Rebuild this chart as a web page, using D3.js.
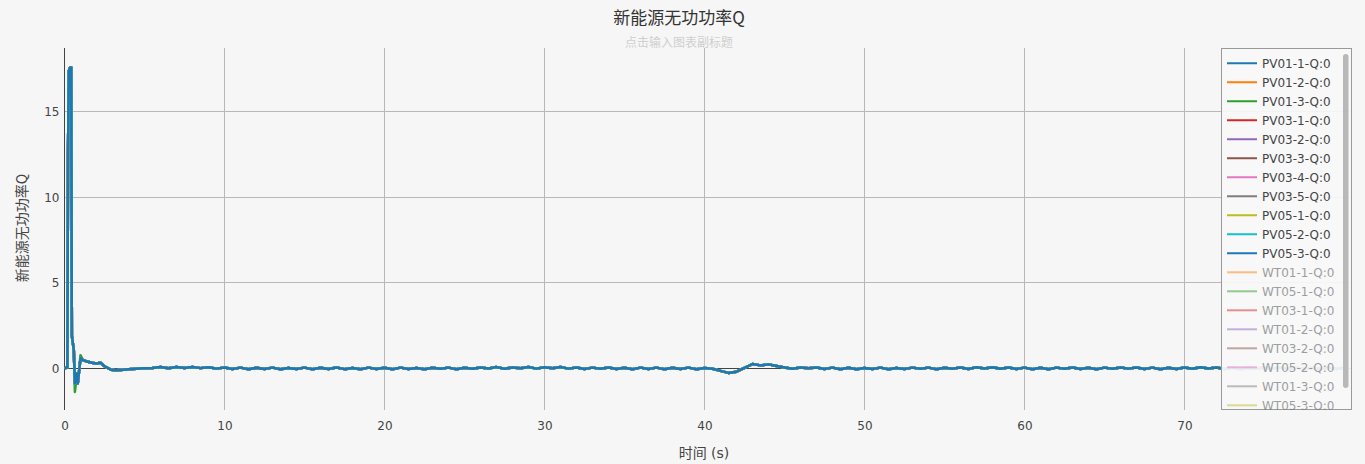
<!DOCTYPE html>
<html><head><meta charset="utf-8">
<script src="https://cdn.jsdelivr.net/npm/d3@7"></script>
<style>
html,body{margin:0;padding:0;background:#f6f6f6;}
svg{display:block;font-family:"DejaVu Sans","Noto Sans CJK SC",sans-serif;}
</style></head><body>
<svg id="chart" width="1365" height="464"></svg>
<script>
// ---------- data ----------
const chartTitle = "新能源无功功率Q";
const chartSubtitle = "点击输入图表副标题";
const yAxisTitle = "新能源无功功率Q";
const xAxisTitle = "时间 (s)";
const xTicks = [0, 10, 20, 30, 40, 50, 60, 70];
const yTicks = [0, 5, 10, 15];

const seriesNames = ["PV01-1-Q:0","PV01-2-Q:0","PV01-3-Q:0","PV03-1-Q:0","PV03-2-Q:0","PV03-3-Q:0",
  "PV03-4-Q:0","PV03-5-Q:0","PV05-1-Q:0","PV05-2-Q:0","PV05-3-Q:0",
  "WT01-1-Q:0","WT05-1-Q:0","WT03-1-Q:0","WT01-2-Q:0","WT03-2-Q:0","WT05-2-Q:0","WT01-3-Q:0","WT05-3-Q:0"];
const seriesVisible = [true,true,true,true,true,true,true,true,true,true,true,
  false,false,false,false,false,false,false,false];
const seriesColors = ["#1f77b4","#ff7f0e","#2ca02c","#d62728","#9467bd","#8c564b","#e377c2","#7f7f7f","#bcbd22","#17becf",
  "#1f77b4","#ff7f0e","#2ca02c","#d62728","#9467bd","#8c564b","#e377c2","#7f7f7f","#bcbd22"];

// start-up transient sample times (s)
const tStart = [0,0.18,0.22,0.27,0.35,0.42,0.46,0.58,0.65,0.75,0.83,1.0,1.15,1.4,1.7,2.0,2.25,2.5,2.9,3.2,3.5,4.0,4.5,5.0];
// steady-state sampling grid 5.5 s .. 80.0 s every 0.5 s
const tSteady = d3.range(5.5, 80.01, 0.5);

// main PV reactive power (start-up)
const qStart = [0,0.05,12.6,17.4,17.6,17.6,1.9,1.1,-0.88,-0.3,-0.88,0.6,0.48,0.4,0.32,0.28,0.33,0.12,-0.08,-0.12,-0.1,-0.06,-0.03,0.01];
// PV01-3 start-up (deeper dip)
const qStartPV0103 = [0,0.05,12.6,17.4,17.6,17.6,1.9,1.1,-1.38,-0.6,-0.9,0.77,0.5,0.4,0.32,0.28,0.33,0.12,-0.08,-0.12,-0.1,-0.06,-0.03,0.01];
// steady-state values 5.5 .. 80.0
const qSteady = [
  0.02,0.07,0.0,0.08,0.02,0.08,0.01,0.06,-0.02,0.05,
  -0.04,0.04,-0.05,0.03,-0.04,0.04,-0.05,0.02,-0.04,0.04,
  -0.05,0.03,-0.04,0.05,-0.05,0.02,-0.06,0.04,-0.04,0.03,
  -0.05,0.04,-0.04,0.02,-0.06,0.03,-0.03,0.04,-0.05,0.03,
  -0.03,0.05,-0.01,0.07,-0.03,0.05,0.0,0.07,-0.02,0.06,
  0.0,0.07,-0.02,0.05,-0.04,0.04,-0.03,0.05,-0.04,0.03,
  -0.05,0.04,-0.04,0.04,-0.06,0.03,-0.04,0.04,-0.05,0.02,
  -0.03,-0.15,-0.27,-0.2,0.02,0.25,0.17,0.23,0.14,0.05,
  -0.03,0.05,0.0,0.05,-0.04,0.04,-0.05,0.03,-0.06,0.02,
  -0.04,0.04,-0.06,0.02,-0.04,0.04,-0.03,0.04,-0.06,0.03,
  -0.02,0.05,-0.04,0.06,-0.01,0.06,-0.03,0.05,-0.04,0.04,
  -0.05,0.03,-0.05,0.04,-0.03,0.05,-0.04,0.03,-0.05,0.04,
  -0.03,0.05,-0.02,0.05,-0.04,0.04,-0.05,0.03,-0.04,0.05,
  -0.03,0.06,-0.01,0.05,-0.04,0.04,-0.05,0.03,-0.03,0.05,
  -0.02,0.05,-0.04,0.04,-0.05,0.03,-0.03,0.05,-0.04,0.04
];

(function () {
// ---------- build ----------
const time = tStart.concat(tSteady);
const mainVals = qStart.concat(qSteady);
const pv0103Vals = qStartPV0103.concat(qSteady);
const series = seriesNames.map((name, i) => ({
  name, color: seriesColors[i], visible: seriesVisible[i],
  values: (name === "PV01-3-Q:0" ? pv0103Vals : mainVals)
}));

const svg = d3.select("#chart");
const W = 1365, H = 464;
const pL = 64.5, pR = 1352, pT = 48, pB = 410;

const x = d3.scaleLinear().domain([0, 80.47]).range([pL, pR]);
const y = d3.scaleLinear().domain([-2.44, 18.74]).range([pB, pT]);

svg.append("rect").attr("width", W).attr("height", H).attr("fill", "#f6f6f6");

// grid
const g = svg.append("g");
g.selectAll(".vg").data(xTicks.filter(d => d !== 0)).enter().append("line")
  .attr("x1", d => x(d)).attr("x2", d => x(d)).attr("y1", pT).attr("y2", pB)
  .attr("stroke", "#b8b8b8").attr("stroke-width", 1).attr("shape-rendering", "crispEdges");
g.selectAll(".hg").data(yTicks.filter(d => d !== 0)).enter().append("line")
  .attr("x1", pL).attr("x2", pR).attr("y1", d => y(d)).attr("y2", d => y(d))
  .attr("stroke", "#b8b8b8").attr("stroke-width", 1).attr("shape-rendering", "crispEdges");
// zero lines
g.append("line").attr("x1", pL).attr("x2", pR).attr("y1", y(0)).attr("y2", y(0))
  .attr("stroke", "#444").attr("stroke-width", 1).attr("shape-rendering", "crispEdges");
g.append("line").attr("x1", x(0)).attr("x2", x(0)).attr("y1", pT).attr("y2", pB)
  .attr("stroke", "#444").attr("stroke-width", 1).attr("shape-rendering", "crispEdges");

// axes tick labels via d3 axes
const xAxis = d3.axisBottom(x).tickValues(xTicks).tickSize(0).tickPadding(11).tickFormat(d3.format("d"));
const xg = svg.append("g").attr("transform", `translate(0,${pB})`).call(xAxis);
const yAxis = d3.axisLeft(y).tickValues(yTicks).tickSize(0).tickPadding(5).tickFormat(d3.format("d"));
const yg = svg.append("g").attr("transform", `translate(${pL},0)`).call(yAxis);
[xg, yg].forEach(a => {
  a.select(".domain").remove();
  a.selectAll("text").attr("fill", "#444").style("font-size", "12px")
    .style("font-family", "'DejaVu Sans',sans-serif");
});

// clip
const defs = svg.append("defs");
defs.append("clipPath").attr("id", "plotclip").append("rect")
  .attr("x", pL).attr("y", pT).attr("width", pR - pL).attr("height", pB - pT);

const line = d3.line().x((d, i) => x(time[i])).y(d => y(d));
const lg = svg.append("g").attr("clip-path", "url(#plotclip)");
series.filter(s => s.visible).forEach(s => {
  lg.append("path").datum(s.values).attr("d", line)
    .attr("fill", "none").attr("stroke", s.color).attr("stroke-width", 2.5)
    .attr("stroke-linejoin", "round");
});

// titles
svg.append("text").attr("x", 679).attr("y", 24).attr("text-anchor", "middle")
  .attr("fill", "#333").style("font-size", "17px").style("font-family", "'Noto Sans CJK SC',sans-serif")
  .text(chartTitle);
svg.append("text").attr("x", 679).attr("y", 47).attr("text-anchor", "middle")
  .attr("fill", "#cfcfcf").style("font-size", "12px").style("font-family", "'Noto Sans CJK SC',sans-serif")
  .text(chartSubtitle);
svg.append("text").attr("transform", `translate(27,228) rotate(-90)`).attr("text-anchor", "middle")
  .attr("fill", "#444").style("font-size", "14px").style("font-family", "'Noto Sans CJK SC',sans-serif")
  .text(yAxisTitle);
svg.append("text").attr("x", 704).attr("y", 458).attr("text-anchor", "middle")
  .attr("fill", "#444").style("font-size", "14px").style("font-family", "'DejaVu Sans','Noto Sans CJK SC',sans-serif")
  .text(xAxisTitle);

// legend
const lgX = 1221.5, lgY = 48.5, lgW = 130, lgH = 361;
defs.append("clipPath").attr("id", "legclip").append("rect")
  .attr("x", lgX).attr("y", lgY).attr("width", lgW).attr("height", lgH);
svg.append("rect").attr("x", lgX).attr("y", lgY).attr("width", lgW).attr("height", lgH)
  .attr("fill", "#f7f7f7").attr("fill-opacity", 0.93).attr("stroke", "#9a9a9a").attr("stroke-width", 1);
const leg = svg.append("g").attr("clip-path", "url(#legclip)");
const items = leg.selectAll(".li").data(series).enter().append("g")
  .attr("transform", (d, i) => `translate(0,${63.3 + i * 19})`)
  .attr("opacity", d => d.visible ? 1 : 0.5);
items.append("line").attr("x1", 1227).attr("x2", 1257).attr("y1", 0).attr("y2", 0)
  .attr("stroke", d => d.color).attr("stroke-width", 2);
items.append("text").attr("x", 1262).attr("y", 4.3).attr("fill", "#444")
  .style("font-size", "12px").style("font-family", "'DejaVu Sans',sans-serif").text(d => d.name);
// scrollbar
svg.append("rect").attr("x", 1343).attr("y", 54).attr("width", 5.5).attr("height", 334).attr("rx", 2.75)
  .attr("fill", "#b8b8b8");
})();
</script>
</body></html>
